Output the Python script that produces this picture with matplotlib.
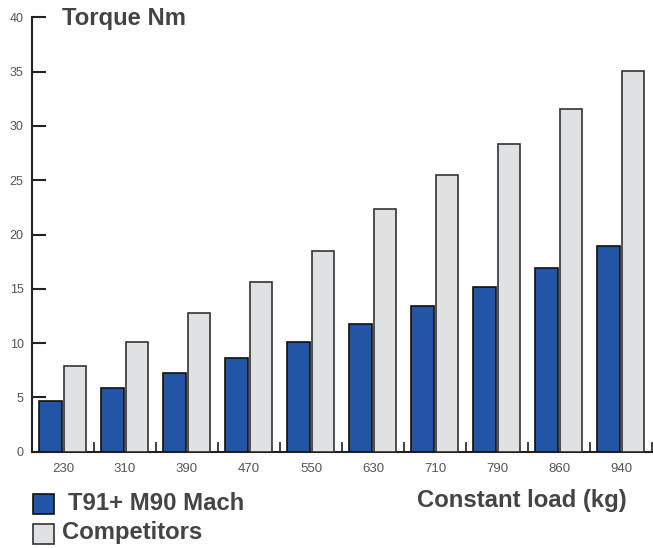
import matplotlib
matplotlib.use("Agg")
import matplotlib.pyplot as plt
from matplotlib.patches import Rectangle
import numpy as np

plt.rcParams['font.family'] = ['Liberation Sans', 'DejaVu Sans']

categories = ['230', '310', '390', '470', '550', '630', '710', '790', '860', '940']
t91_values = [4.67, 5.84, 7.27, 8.66, 10.13, 11.76, 13.44, 15.17, 16.88, 18.94]
competitor_values = [7.86, 10.13, 12.74, 15.63, 18.48, 22.35, 25.45, 28.37, 31.59, 35.08]
series_names = ['T91+ M90 Mach', 'Competitors']
y_ticks = [0, 5, 10, 15, 20, 25, 30, 35, 40]

W, H = 653, 548
fig = plt.figure(figsize=(W / 100, H / 100), dpi=100)
x0, x1 = 32, 652
y0, y1 = 451.7, 17.3
ax = fig.add_axes([x0 / W, 1 - y0 / H, (x1 - x0) / W, (y0 - y1) / H])

blue = '#2255a5'
gray = '#e0e1e3'
txt = '#444444'

x = np.arange(len(categories))
ax.bar(x - 0.195, t91_values, width=0.37, color=blue, edgecolor='#111111', linewidth=1.2, zorder=3)
ax.bar(x + 0.19, competitor_values, width=0.355, color=gray, edgecolor='#333333', linewidth=1.2, zorder=3)

ax.set_xlim(-0.5, len(categories) - 0.5)
ax.set_ylim(0, 40)
for s in ['top', 'right']:
    ax.spines[s].set_visible(False)
for s in ['left', 'bottom']:
    ax.spines[s].set_linewidth(1.5)
    ax.spines[s].set_color('#222222')

ax.set_yticks(y_ticks)
ax.tick_params(axis='y', direction='in', length=10, width=1.5, color='#222222',
               labelsize=9, labelcolor='#555555', pad=6)
ax.set_xticks(x)
ax.set_xticklabels(categories)
ax.set_xticks(np.arange(len(categories)) + 0.5, minor=True)
ax.tick_params(axis='x', which='major', length=0, labelsize=9.5, labelcolor='#555555', pad=8)
ax.tick_params(axis='x', which='minor', direction='in', length=7, width=1.2, color='#222222')

fs = 17.2
fig.text(62 / W, 1 - 18 / H, 'Torque Nm', fontsize=fs, fontweight='bold', color=txt,
         ha='left', va='center')
fig.text(627 / W, 1 - 501 / H, 'Constant load (kg)', fontsize=fs, fontweight='bold', color=txt,
         ha='right', va='center')

# legend
fig.patches.append(Rectangle((33 / W, 1 - 514 / H), 21 / W, 20 / H, transform=fig.transFigure,
                             facecolor=blue, edgecolor='#111111', linewidth=1.2))
fig.patches.append(Rectangle((33 / W, 1 - 544 / H), 21 / W, 20 / H, transform=fig.transFigure,
                             facecolor=gray, edgecolor='#333333', linewidth=1.2))
fig.text(68 / W, 1 - 504 / H, series_names[0], fontsize=fs, fontweight='bold', color=txt,
         ha='left', va='center')
fig.text(62 / W, 1 - 533 / H, series_names[1], fontsize=fs, fontweight='bold', color=txt,
         ha='left', va='center')

fig.savefig('out.png', dpi=100)
